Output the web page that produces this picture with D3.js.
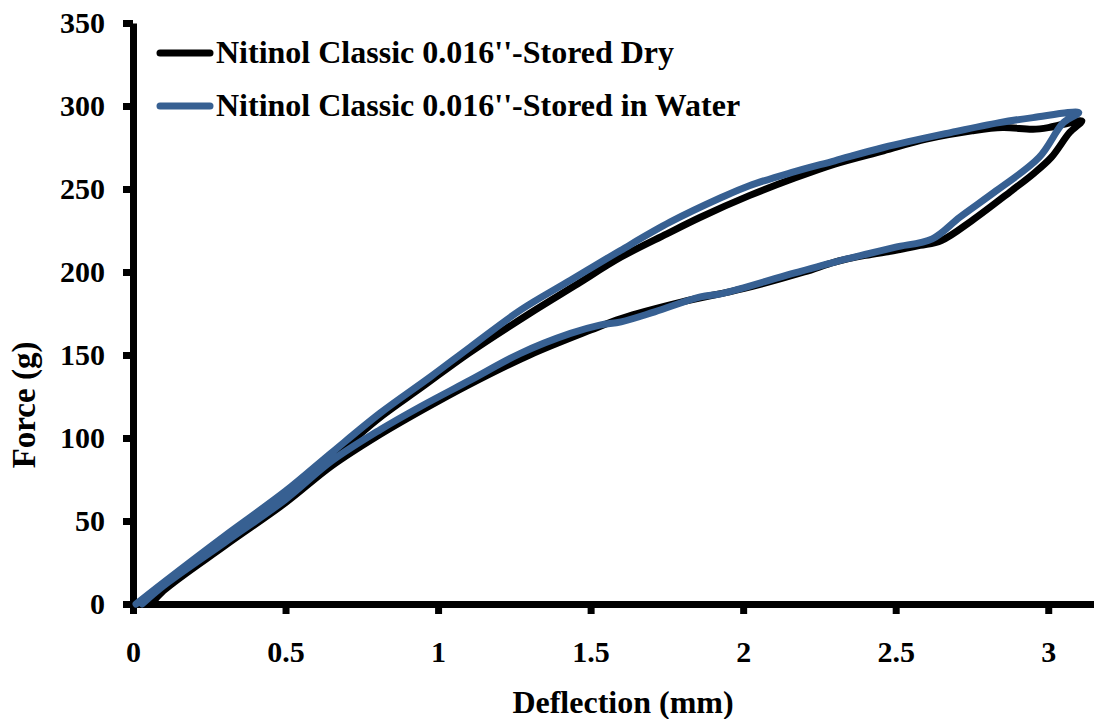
<!DOCTYPE html>
<html><head><meta charset="utf-8">
<script src="https://cdn.jsdelivr.net/npm/d3@7"></script>
<style>html,body{margin:0;padding:0;background:#fff}svg{display:block}</style>
</head><body>
<script>
const xTicks = [0, 0.5, 1, 1.5, 2, 2.5, 3];
const xTickLabels = ["0", "0.5", "1", "1.5", "2", "2.5", "3"];
const yTicks = [0, 50, 100, 150, 200, 250, 300, 350];
const yTickLabels = ["0", "50", "100", "150", "200", "250", "300", "350"];
const seriesNames = ["Nitinol Classic 0.016''-Stored Dry", "Nitinol Classic 0.016''-Stored in Water"];
const seriesColors = ["#000000", "#376092"];

// Stored Dry: loading then unloading
const dryDeflection = [0.05,0.1,0.3,0.5,0.65,0.8,0.95,1.1,1.3,1.45,1.6,1.75,1.86,2.02,2.16,2.3,2.46,2.6,2.75,2.85,2.95,3.0,3.05,3.11,
  3.07,3.01,2.95,2.88,2.75,2.65,2.58,2.5,2.4,2.3,2.2,2.0,1.8,1.6,1.5,1.3,1.1,0.95,0.8,0.65,0.5,0.3,0.1,0.06];
const dryForce = [0,9,37,64,87,111,131,151,175,192,209,223,233,246,256,265,273,280,285,287,286,287,289,291,
  284,269,259,249,231,219,216,213,210,206,200,190,182,172,165,150,132,117,101,83,61,35,8,0];

// Stored in Water: loading then unloading
const waterDeflection = [0.01,0.1,0.3,0.5,0.65,0.81,0.976,1.107,1.27,1.434,1.598,1.76,1.93,2.02,2.16,2.3,2.46,2.68,2.84,2.95,3.1,
  3.05,2.97,2.83,2.71,2.62,2.5,2.41,2.3,2.16,1.93,1.86,1.71,1.6,1.53,1.434,1.27,1.107,0.943,0.81,0.65,0.5,0.3,0.1,0.03];
const waterForce = [0,13,41,68,91,115,137,155,177,195,213,230,245,252,260,267,275,284,290,293,296,
  290,269,249,233,220,215,211,206,199,187,185,176,170,168,163,151,135,119,105,86,63,37,11,0];

const W = 1094, H = 719;
const svg = d3.select("body").append("svg").attr("width", W).attr("height", H);
const x = d3.scaleLinear().domain([0, 3.15]).range([133, 1094]);
const y = d3.scaleLinear().domain([0, 350]).range([604, 23]);
const font = "'Liberation Serif','Times New Roman',serif";

// axes
const yAxis = d3.axisLeft(y).tickValues(yTicks).tickSize(10).tickSizeOuter(0).tickFormat((d,i)=>yTickLabels[i]).tickPadding(18);
const gy = svg.append("g").attr("transform", `translate(${x(0)},0)`).call(yAxis);
const xAxis = d3.axisBottom(x).tickValues(xTicks).tickSize(10).tickSizeOuter(0).tickFormat((d,i)=>xTickLabels[i]).tickPadding(27);
const gx = svg.append("g").attr("transform", `translate(0,${y(0)})`).call(xAxis);
[gx, gy].forEach(g => {
  g.select(".domain").attr("stroke", "#000").attr("stroke-width", 7);
  g.selectAll(".tick line").attr("stroke", "#000").attr("stroke-width", 7);
  g.selectAll(".tick text").attr("font-family", font).attr("font-weight", "bold").attr("font-size", 30).attr("fill", "#000");
});

// lines
const line = d3.line().x(d => x(d[0])).y(d => y(d[1])).curve(d3.curveCatmullRom.alpha(0.5));
const dry = dryDeflection.map((d, i) => [d, dryForce[i]]);
const water = waterDeflection.map((d, i) => [d, waterForce[i]]);
svg.append("path").datum(dry).attr("d", line).attr("fill", "none").attr("stroke", seriesColors[0])
  .attr("stroke-width", 7).attr("stroke-linejoin", "round").attr("stroke-linecap", "round");
svg.append("path").datum(water).attr("d", line).attr("fill", "none").attr("stroke", seriesColors[1])
  .attr("stroke-width", 7).attr("stroke-linejoin", "round").attr("stroke-linecap", "round");

// legend
const legY = [53, 106];
seriesNames.forEach((n, i) => {
  svg.append("line").attr("x1", 160).attr("x2", 210).attr("y1", legY[i]).attr("y2", legY[i])
    .attr("stroke", seriesColors[i]).attr("stroke-width", 7).attr("stroke-linecap", "round");
  svg.append("text").attr("x", 216).attr("y", legY[i] + 10).text(n)
    .attr("font-family", font).attr("font-weight", "bold").attr("font-size", 32).attr("fill", "#000");
});

// axis titles
svg.append("text").attr("x", 623).attr("y", 713).attr("text-anchor", "middle").text("Deflection (mm)")
  .attr("font-family", font).attr("font-weight", "bold").attr("font-size", 32);
svg.append("text").attr("transform", "translate(35,405) rotate(-90)").attr("text-anchor", "middle").text("Force (g)")
  .attr("font-family", font).attr("font-weight", "bold").attr("font-size", 33);
</script>
</body></html>
